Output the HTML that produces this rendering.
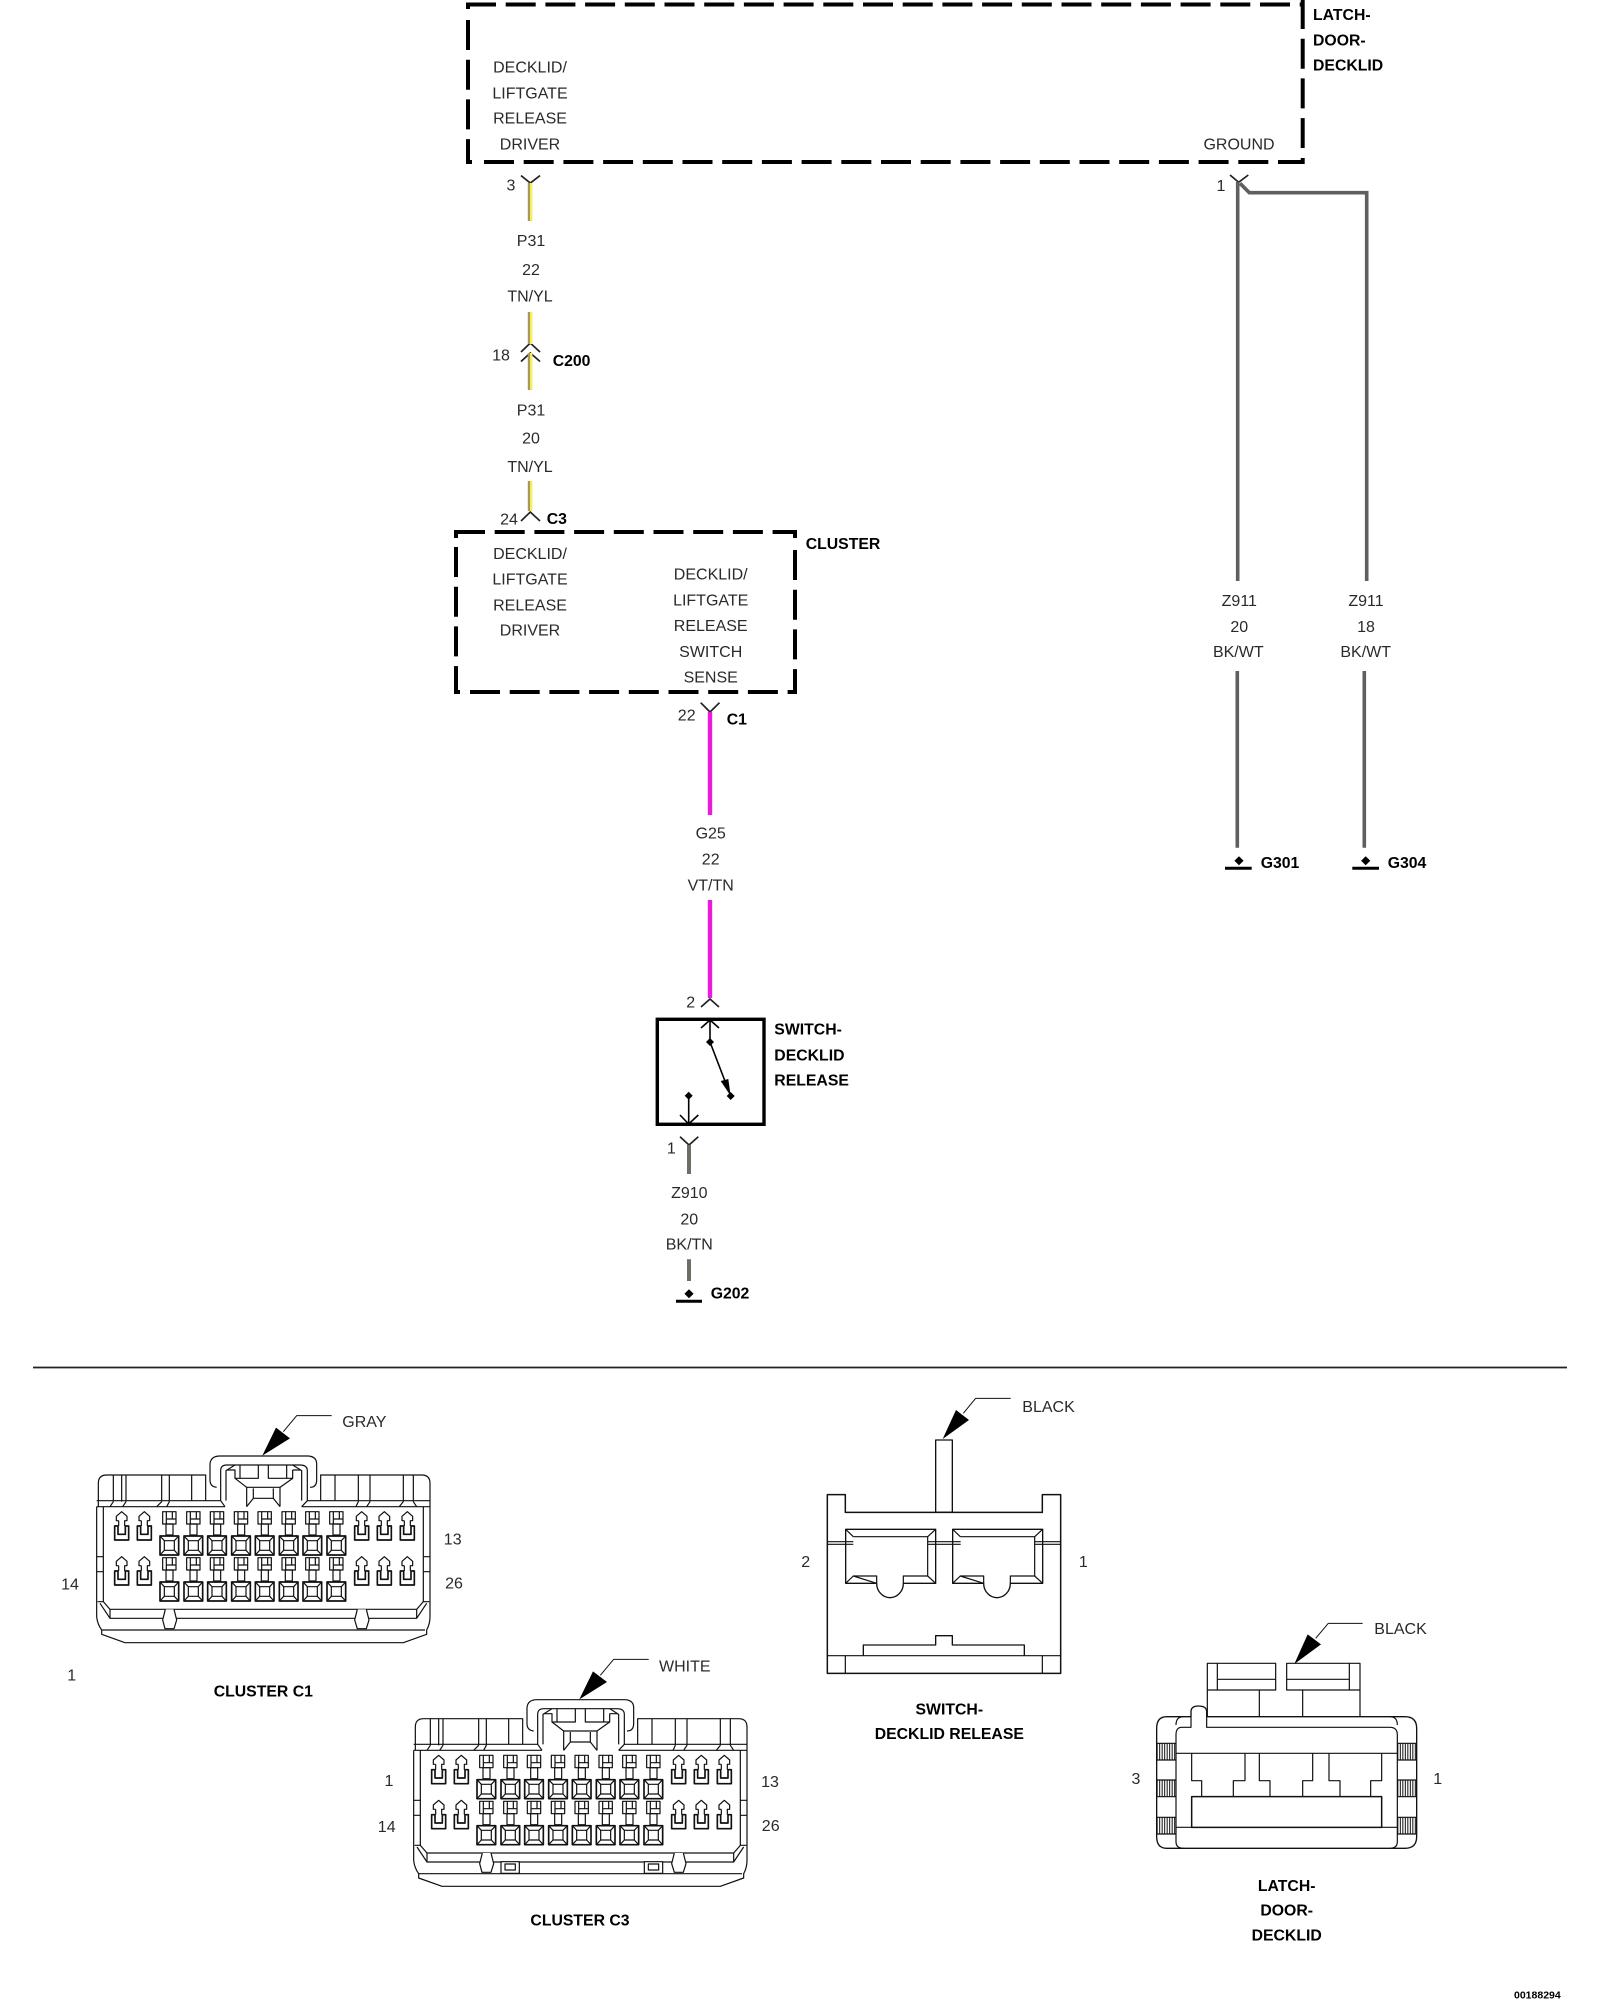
<!DOCTYPE html>
<html><head><meta charset="utf-8"><title>Decklid release wiring diagram</title>
<style>
html,body{margin:0;padding:0;background:#fff}
svg{display:block}
text{font-family:"Liberation Sans",Arial,sans-serif;font-size:16px;fill:#2a2a2a}
.m{text-anchor:middle}
.b{font-weight:bold;fill:#000;font-size:15.8px}
.l{fill:none;stroke:#111;stroke-width:3.6;stroke-linejoin:round}
</style></head><body>
<svg xmlns="http://www.w3.org/2000/svg" width="1600" height="2000" viewBox="0 0 1600 2000">
<defs>
<g id="ap" class="l">
<path d="M-9,27H-16V14L0,0L16,14V27H9V43"/><path d="M-9,27V43"/>
<path stroke-width="5" d="M-21,43V85H21V43H11V68H-11V43Z"/>
</g>
<g id="pp" class="l">
<path d="M-20,0H20V37H-20ZM-9,0V37M9,0V22M-9,22H20"/>
<rect x="-10" y="37" width="21" height="33"/>
<rect x="-28" y="73" width="56" height="57" stroke-width="5"/>
<rect x="-15" y="87" width="30" height="29"/>
<path d="M-28,73L-15,87M28,73L15,87M-28,130L-15,116M28,130L15,116"/>
</g>
<g id="conn" class="l">
<path d="M145,320V250Q145,225 170,225H467V302"/>
<path d="M812,302V225H1115Q1140,225 1140,250V320"/>
<path d="M425,225V302M855,225V302"/>
<path d="M140,302H512M772,302H1140"/>
<path d="M140,320H525M755,320H1140"/>
<path d="M500,262Q480,260 480,240V192Q482,168 510,168H775Q800,170 800,192V240Q800,262 780,262"/>
<path d="M525,320L512,302V212Q512,195 530,195H750Q772,195 772,212V302L755,320"/>
<path d="M528,302V212L555,195M755,302V212L728,195"/>
<path d="M530,210H555V235L590,262V320M728,210H752M728,210V235L690,262V320"/>
<path d="M570,195V235H625V195M655,195V235H710V195M555,235L570,235M710,235L728,235"/>
<path d="M590,262H690M610,265V295H670V265M590,320L610,295M690,320L670,295"/>
<path d="M190,225V305M215,225V305M228,225V305M190,305L180,320M228,305L218,320"/>
<path d="M335,225V305M358,225V305M335,305L320,320M358,305L350,320"/>
<path d="M925,225V305M960,225V305M925,305L918,320M960,305L950,320"/>
<path d="M1060,225V305M1090,225V305M1060,305L1048,320M1090,305L1100,320"/>
<path d="M140,320V650Q142,672 155,690V703L225,728H1060L1130,703V690Q1140,672 1140,650V320"/>
<path d="M160,320V605M1120,320V605M140,470H160M140,515H160M1120,470H1140M1120,515H1140"/>
<path d="M143,605H160L180,628H1100L1120,605H1138"/>
<path d="M150,610L180,655H1100L1130,610M180,628V655M1100,628V655"/>
<path d="M155,690H1125"/>
<path fill="#fff" d="M346,628L338,660L345,686H372L380,660L372,628"/>
<path fill="#fff" d="M922,628L914,660L922,686H949L957,660L949,628"/>
<use href="#ap" x="215" y="335"/><use href="#ap" x="283" y="335"/>
<use href="#ap" x="935" y="335"/><use href="#ap" x="1003" y="335"/><use href="#ap" x="1072" y="335"/>
<use href="#ap" x="215" y="470"/><use href="#ap" x="283" y="470"/>
<use href="#ap" x="935" y="470"/><use href="#ap" x="1003" y="470"/><use href="#ap" x="1072" y="470"/>
<use href="#pp" x="358" y="335"/><use href="#pp" x="430" y="335"/><use href="#pp" x="501" y="335"/><use href="#pp" x="573" y="335"/>
<use href="#pp" x="644" y="335"/><use href="#pp" x="716" y="335"/><use href="#pp" x="787" y="335"/><use href="#pp" x="859" y="335"/>
<use href="#pp" x="358" y="473"/><use href="#pp" x="430" y="473"/><use href="#pp" x="501" y="473"/><use href="#pp" x="573" y="473"/>
<use href="#pp" x="644" y="473"/><use href="#pp" x="716" y="473"/><use href="#pp" x="787" y="473"/><use href="#pp" x="859" y="473"/>
<path d="M845,47H740L700,95" stroke-width="3"/>
<path fill="#000" stroke="none" d="M637,167L678,83L720,115Z"/>
</g>
</defs>

<!-- top box -->
<g fill="none" stroke="#000" stroke-width="4" stroke-dasharray="30 9.7">
<path d="M466,4.5H1303"/>
<path d="M468,20V164"/>
<path d="M484,162H1303"/>
<path d="M1302.7,-1V148"/>
</g>
<path d="M468,3V9M466,162H472M1302.7,158V164" fill="none" stroke="#000" stroke-width="4"/>
<text class="m" x="530" y="72.5">DECKLID/</text>
<text class="m" x="530" y="98.5">LIFTGATE</text>
<text class="m" x="530" y="123.5">RELEASE</text>
<text class="m" x="530" y="149.5">DRIVER</text>
<text class="m" x="1239" y="149.5">GROUND</text>
<text class="b" x="1313" y="20">LATCH-</text>
<text class="b" x="1313" y="45.7">DOOR-</text>
<text class="b" x="1313" y="70.7">DECKLID</text>

<!-- left wire yellow -->
<g fill="none" stroke="#222" stroke-width="1.7">
<path d="M521,175.6L530.3,183L540,175.6"/>
<path d="M521,352L530.3,343L540,352"/>
<path d="M521,361.5L530.3,353L540,361.5"/>
<path d="M521,521L530.3,512L540,521"/>
</g>
<g fill="none" stroke-width="2.4">
<g stroke="#a6975a"><path d="M529,183V221M529,312V344M529,353V390M529,481V511"/></g>
<g stroke="#f4ee5c"><path d="M531.2,183V221M531.2,312V344M531.2,353V390M531.2,481V511"/></g>
</g>
<text class="m" x="511" y="190.5">3</text>
<text class="m" x="531" y="246">P31</text>
<text class="m" x="531" y="275">22</text>
<text class="m" x="530" y="301.5">TN/YL</text>
<text class="m" x="501" y="360.5">18</text>
<text class="b" x="552.7" y="366">C200</text>
<text class="m" x="531" y="415.5">P31</text>
<text class="m" x="531" y="443.5">20</text>
<text class="m" x="530" y="472">TN/YL</text>
<text class="m" x="509" y="524.5">24</text>
<text class="b" x="546.7" y="524">C3</text>

<!-- cluster box -->
<g fill="none" stroke="#000" stroke-width="4" stroke-dasharray="30 9.7">
<path d="M455,532H795"/>
<path d="M456,547V694"/>
<path d="M470,692H797"/>
<path d="M795,550V694"/>
</g>
<path d="M456,530V538M454,692H460M795,530V538" fill="none" stroke="#000" stroke-width="4"/>
<text class="m" x="530" y="558.8">DECKLID/</text>
<text class="m" x="530" y="584.5">LIFTGATE</text>
<text class="m" x="530" y="610.5">RELEASE</text>
<text class="m" x="530" y="635.5">DRIVER</text>
<text class="m" x="710.7" y="579.5">DECKLID/</text>
<text class="m" x="710.7" y="605.5">LIFTGATE</text>
<text class="m" x="710.7" y="631.2">RELEASE</text>
<text class="m" x="710.7" y="656.8">SWITCH</text>
<text class="m" x="710.7" y="682.5">SENSE</text>
<text class="b" x="805.7" y="549">CLUSTER</text>

<!-- magenta wire -->
<path d="M700.7,702.7L710,712L719.5,702.7" fill="none" stroke="#222" stroke-width="1.7"/>
<path d="M710,712V815M710,900V998" stroke="#ea1cdc" stroke-width="4.4" fill="none"/>
<text class="m" x="686.7" y="720.5">22</text>
<text class="b" x="726.7" y="724.5">C1</text>
<text class="m" x="710.7" y="838.5">G25</text>
<text class="m" x="710.7" y="864.5">22</text>
<text class="m" x="710.7" y="890.5">VT/TN</text>

<!-- switch -->
<path d="M701,1007L710,999L719,1007" fill="none" stroke="#222" stroke-width="1.7"/>
<text class="m" x="690.7" y="1007.5">2</text>
<rect x="657.3" y="1019.3" width="106.7" height="105" fill="none" stroke="#000" stroke-width="3.4"/>
<g fill="none" stroke="#000" stroke-width="1.6">
<path d="M701,1028L710,1020L719,1028M710,1020V1042L730.7,1096"/>
<path d="M688.7,1095.7V1124M680,1115L688.7,1124L698.3,1115"/>
</g>
<g fill="#000">
<path d="M710,1038L714,1042L710,1046L706,1042Z"/>
<path d="M730.7,1092L734.7,1096L730.7,1100L726.7,1096Z"/>
<path d="M688.7,1091.7L692.7,1095.7L688.7,1099.7L684.7,1095.7Z"/>
<path d="M720.7,1081L728.3,1079L730.7,1096Z"/>
</g>
<text class="b" x="774.3" y="1034.5">SWITCH-</text>
<text class="b" x="774.3" y="1060.5">DECKLID</text>
<text class="b" x="774.3" y="1085.5">RELEASE</text>

<!-- switch lower wire -->
<path d="M680,1136.7L689,1145L698.3,1136.7" fill="none" stroke="#222" stroke-width="1.7"/>
<path d="M689,1145V1174M689,1259.3V1281" stroke="#6e6e62" stroke-width="4" fill="none"/>
<text class="m" x="671.3" y="1153.5">1</text>
<text class="m" x="689.3" y="1198.2">Z910</text>
<text class="m" x="689.3" y="1224.5">20</text>
<text class="m" x="689.3" y="1249.5">BK/TN</text>
<path d="M689,1289.2L693.6,1293.7L689,1298.2L684.4,1293.7Z" fill="#000"/>
<path d="M676,1301.3H702" stroke="#000" stroke-width="3"/>
<text class="b" x="710.7" y="1298.7">G202</text>

<!-- ground wires -->
<path d="M1230,175L1238.7,182.3L1248.3,175" fill="none" stroke="#222" stroke-width="1.7"/>
<g fill="none" stroke="#5f5f5f" stroke-width="3.6">
<path d="M1237.7,182V581M1240,183.3L1249.3,192.7H1366.7V581"/>
<path d="M1237.3,671V847.7M1364.3,671V847.7"/>
</g>
<text class="m" x="1221" y="191.2">1</text>
<text class="m" x="1239.3" y="606.2">Z911</text>
<text class="m" x="1239.3" y="632.2">20</text>
<text class="m" x="1238.3" y="657.2">BK/WT</text>
<text class="m" x="1366" y="606.2">Z911</text>
<text class="m" x="1366" y="632.2">18</text>
<text class="m" x="1365.7" y="657.2">BK/WT</text>
<path d="M1239,856.2L1243.6,860.7L1239,865.2L1234.4,860.7Z M1365.7,856.2L1370.3,860.7L1365.7,865.2L1361.1,860.7Z" fill="#000"/>
<path d="M1225,868.3H1251.7M1352.3,868.3H1379" stroke="#000" stroke-width="3"/>
<text class="b" x="1260.7" y="867.8">G301</text>
<text class="b" x="1387.7" y="867.8">G304</text>

<!-- divider -->
<path d="M33,1367.5H1567" stroke="#222" stroke-width="1.7"/>

<!-- cluster C1 -->
<g transform="translate(50,1400) scale(.33333)"><use href="#conn"/></g>
<text x="342.3" y="1427">GRAY</text>
<text class="m" x="452.7" y="1544.5">13</text>
<text class="m" x="454" y="1588.5">26</text>
<text class="m" x="70" y="1589.5">14</text>
<text class="m" x="71.7" y="1680.5">1</text>
<text class="b m" x="263.3" y="1696.5">CLUSTER C1</text>

<!-- cluster C3 -->
<g transform="translate(370,1640) scale(.33333)">
<g transform="translate(-9,11)"><use href="#conn"/></g>
<g class="l">
<rect x="393" y="665" width="55" height="35" fill="#fff"/><rect x="405" y="672" width="31" height="18"/>
<rect x="823" y="665" width="55" height="35" fill="#fff"/><rect x="835" y="672" width="31" height="18"/>
</g>
</g>
<text x="659" y="1671.5">WHITE</text>
<text class="m" x="389" y="1786.2">1</text>
<text class="m" x="386.7" y="1832.2">14</text>
<text class="m" x="770" y="1787.2">13</text>
<text class="m" x="770.7" y="1831.2">26</text>
<text class="b m" x="580" y="1925.5">CLUSTER C3</text>

<!-- switch connector -->
<g transform="translate(800,1390) scale(.33333)" class="l">
<path d="M82,314H136V367H727V314H782V850H82Z" stroke-width="4.5"/>
<path d="M407,367V150H457V367H407" stroke-width="4"/>
<path d="M82,797H782M136,797V850M727,797V850"/>
<path d="M190,797V765H407V737H457V765H673V797" stroke-width="4"/>
<path d="M82,455H160M82,463H160M383,455H482M383,463H482M705,455H782M705,463H782"/>
<g id="st">
<path d="M137,418H407V580H310A40,43 0 0 1 230,580H137Z" stroke-width="4"/>
<path d="M160,440H383V558H310V580M230,580V558H160Z"/>
<path d="M137,418L160,440M407,418L383,440M137,580L160,558M407,580L383,558"/>
</g>
<use href="#st" x="321"/>
<path d="M632,25H527L490,70" stroke-width="3"/>
<path fill="#000" stroke="none" d="M428,147L468,60L507,90Z"/>
</g>
<text x="1022.3" y="1411.8">BLACK</text>
<text class="m" x="805.7" y="1567.2">2</text>
<text class="m" x="1083.3" y="1567.2">1</text>
<text class="b m" x="949.3" y="1714.7">SWITCH-</text>
<text class="b m" x="949.3" y="1739">DECKLID RELEASE</text>

<!-- latch connector -->
<g transform="translate(1130,1610) scale(.33333)" class="l">
<path d="M232,320V160H437V240H232M262,160V240M262,208H437"/>
<path d="M690,320V160H470V240H690M658,160V240M470,208H658"/>
<path d="M388,240V320M518,240V320"/>
<path d="M110,320H183V305Q183,288 205,288Q230,288 230,305V320H825Q860,320 860,355V680Q860,715 825,715H110Q80,715 80,680V355Q80,320 110,320Z" stroke-width="4"/>
<path d="M183,320V352H155Q138,352 138,375V695Q138,715 160,715"/>
<path d="M230,320V352H780Q802,352 802,375V695Q802,715 780,715"/>
<path d="M138,345Q138,320 160,320M802,345Q802,320 780,320"/>
<path d="M138,430H802M138,652H185M755,652H802"/>
<rect x="185" y="560" width="570" height="92" stroke-width="4.5"/>
<path d="M185,430V512H215V560M310,560V512H345V430M388,430V512H420V560M518,560V512H548V430M597,430V512H630V560M722,560V512H755V430"/>
<g stroke-width="50" stroke-dasharray="3 4.5">
<path d="M80,425H138M80,535H138M80,647H138M802,425H860M802,535H860M802,647H860"/>
</g>
<path d="M80,400H138M80,450H138M80,510H138M80,560H138M80,622H138M80,672H138M802,400H860M802,450H860M802,510H860M802,560H860M802,622H860M802,672H860"/>
<path d="M698,40H595L557,85" stroke-width="3"/>
<path fill="#000" stroke="none" d="M493,162L533,73L573,103Z"/>
</g>
<text x="1374.3" y="1634">BLACK</text>
<text class="m" x="1136" y="1783.8">3</text>
<text class="m" x="1437.7" y="1783.8">1</text>
<text class="b m" x="1286.7" y="1891.2">LATCH-</text>
<text class="b m" x="1286.7" y="1915.7">DOOR-</text>
<text class="b m" x="1286.7" y="1940.7">DECKLID</text>
<text x="1514" y="1998.5" style="font-weight:bold;font-size:10.5px;fill:#000">00188294</text>
</svg>
</body></html>
